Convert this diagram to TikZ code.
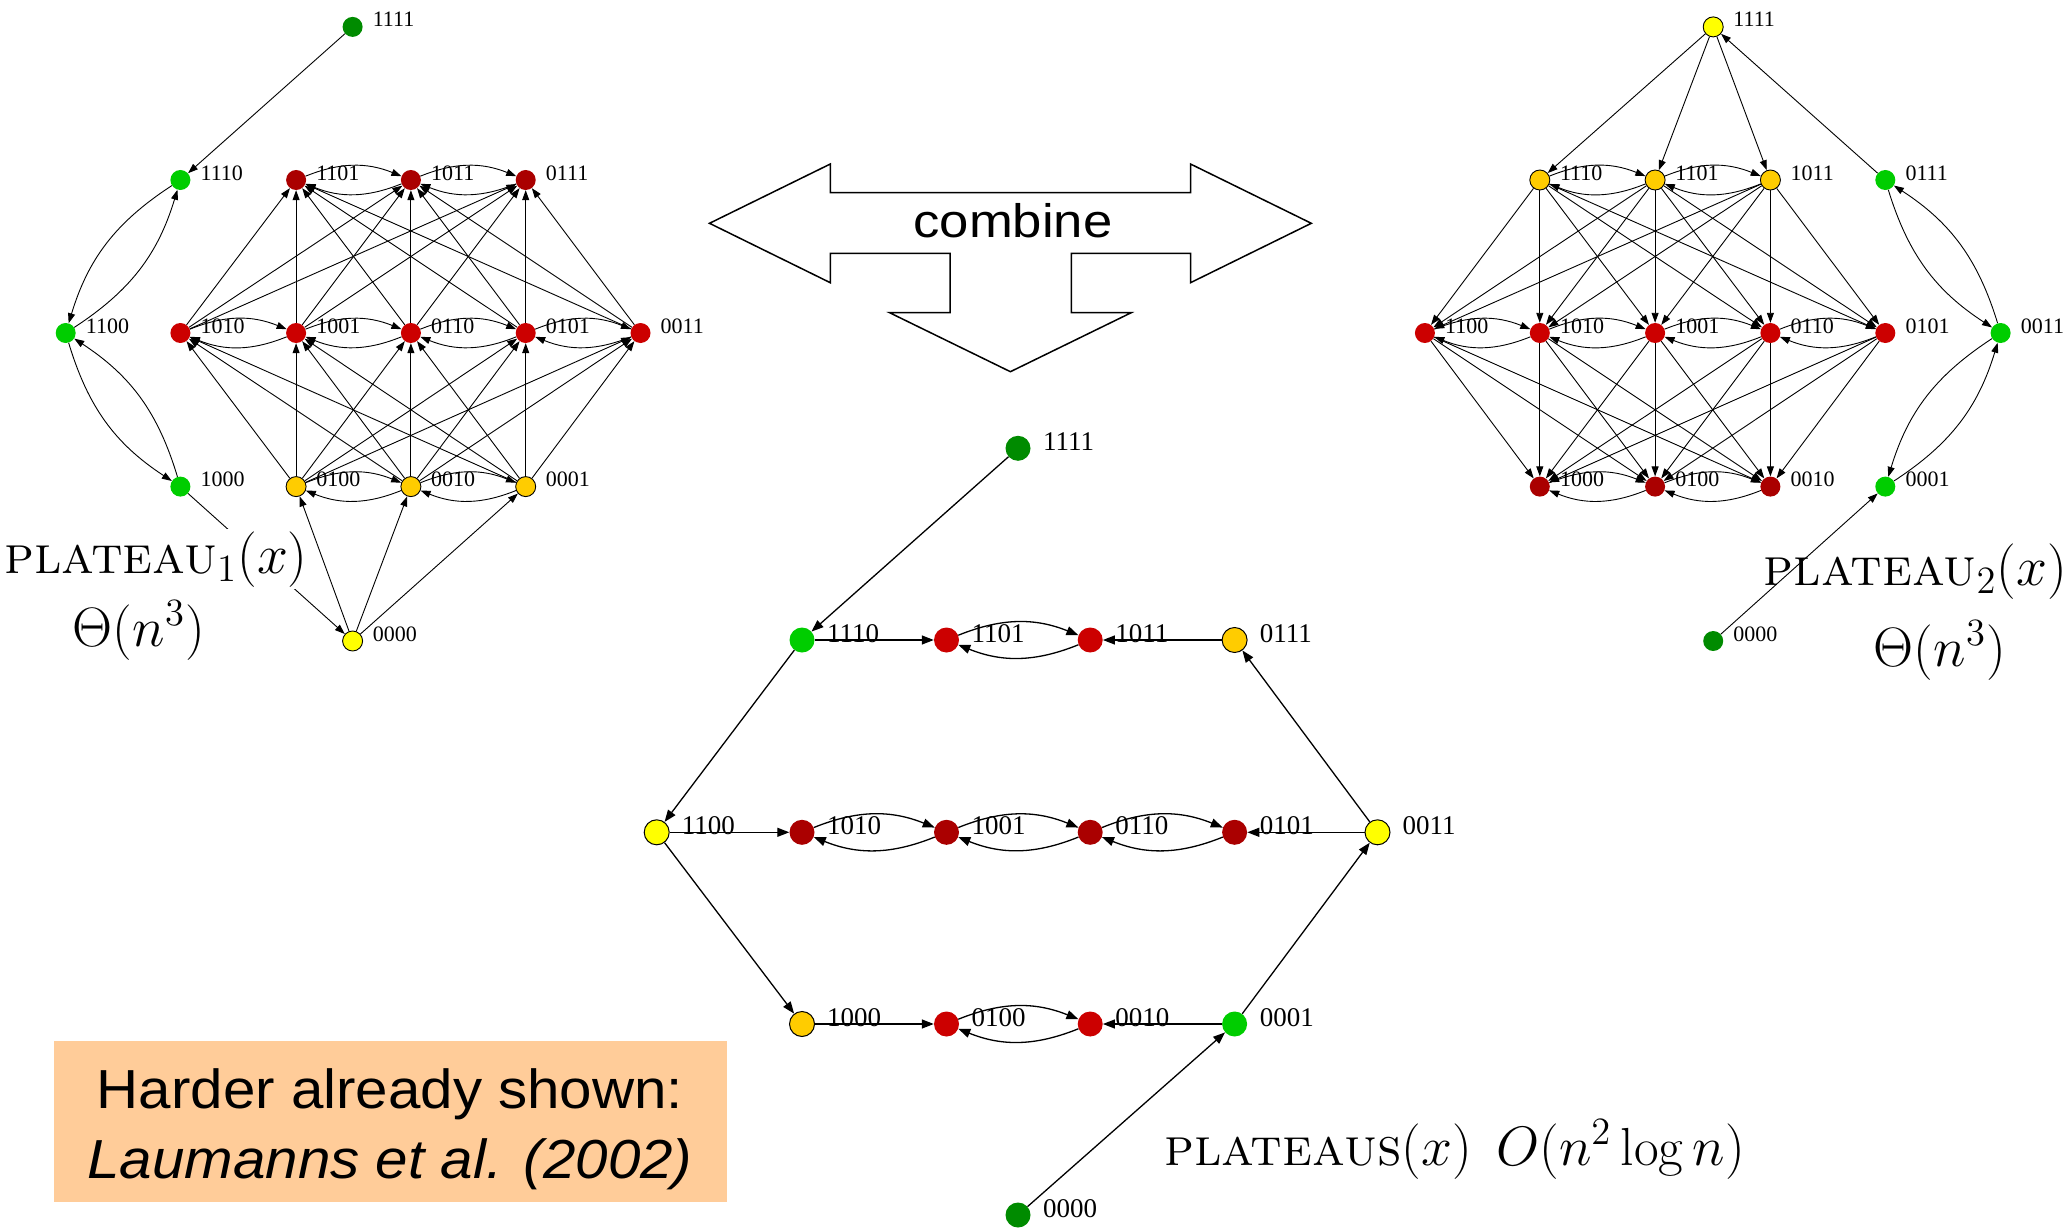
\documentclass[tikz,border=0pt]{standalone}
\usepackage{fontspec}
\newfontfamily\serf{Liberation Serif}
\newfontfamily\sanf{Liberation Sans}
\usetikzlibrary{arrows.meta}
\definecolor{cDG}{RGB}{0,139,0}
\definecolor{cG}{RGB}{0,205,0}
\definecolor{cR}{RGB}{204,0,0}
\definecolor{cDR}{RGB}{170,0,0}
\definecolor{cGo}{RGB}{255,204,0}
\definecolor{cY}{RGB}{255,255,0}
\definecolor{cPeach}{RGB}{255,204,153}
\pgfdeclarelayer{bg}
\pgfdeclarelayer{edges}
\pgfsetlayers{bg,edges,main}
\tikzset{
  v/.style={circle, inner sep=0pt, minimum size=20pt, draw=none},
  vo/.style={v, draw=black, line width=0.9pt},
  vm/.style={circle, inner sep=0pt, minimum size=25pt, draw=none},
  vmo/.style={vm, draw=black, line width=1pt},
  sl/.style={font=\serf\fontsize{22}{24}\selectfont, inner sep=0pt, anchor=base west},
  ml/.style={font=\serf\fontsize{27}{30}\selectfont, inner sep=0pt, anchor=base west},
  e/.style={line width=0.9pt, -{Triangle[length=10pt,width=7pt]}},
  em/.style={line width=1.3pt, -{Triangle[length=12pt,width=9pt]}},
  pl/.style={inner sep=2pt, anchor=base},
  bx/.style={font=\sanf\fontsize{55}{60}\selectfont, inner sep=0pt, anchor=base},
}
\newcommand\plt[1]{\scalebox{2.68}{\fontsize{20}{24}\selectfont #1}}
\newcommand\sv[5]{\node[#4] (#1) at (#2,#3) {}; \node[sl] (#1l) at (#2+20,#3) {#5};}
\newcommand\mv[5]{\node[#4] (#1) at (#2,#3) {}; \node[ml] (#1l) at (#2+25,#3+2) {#5};}
\begin{document}
\begin{tikzpicture}[x=1pt,y=-1pt]
\begin{pgfonlayer}{bg}
\fill[white] (0,0) rectangle (2070,1228);
\end{pgfonlayer}
\useasboundingbox (0,0) rectangle (2070,1228);

% ---------- left graph ----------
\sv{a1111}{352.6}{26.9}{v,fill=cDG}{1111}
\sv{a1110}{180.4}{180}{v,fill=cG}{1110}
\sv{a1100}{65.7}{333}{v,fill=cG}{1100}
\sv{a1000}{180.4}{486.6}{v,fill=cG}{1000}
\sv{a1101}{296.1}{180}{v,fill=cDR}{1101}
\sv{a1011}{410.9}{180}{v,fill=cDR}{1011}
\sv{a0111}{525.7}{180}{v,fill=cDR}{0111}
\sv{a1010}{180.4}{333}{v,fill=cR}{1010}
\sv{a1001}{296.1}{333}{v,fill=cR}{1001}
\sv{a0110}{410.9}{333}{v,fill=cR}{0110}
\sv{a0101}{525.7}{333}{v,fill=cR}{0101}
\sv{a0011}{640.5}{333}{v,fill=cR}{0011}
\sv{a0100}{296.1}{486.6}{vo,fill=cGo}{0100}
\sv{a0010}{410.9}{486.6}{vo,fill=cGo}{0010}
\sv{a0001}{525.7}{486.6}{vo,fill=cGo}{0001}
\sv{a0000}{352.6}{641}{vo,fill=cY}{0000}

% ---------- right graph ----------
\sv{b1111}{1713.2}{26.9}{vo,fill=cY}{1111}
\sv{b1110}{1539.8}{180}{vo,fill=cGo}{1110}
\sv{b1101}{1655.1}{180}{vo,fill=cGo}{1101}
\sv{b1011}{1770.4}{180}{vo,fill=cGo}{1011}
\sv{b0111}{1885.3}{180}{v,fill=cG}{0111}
\sv{b1100}{1424.9}{333}{v,fill=cR}{1100}
\sv{b1010}{1539.8}{333}{v,fill=cR}{1010}
\sv{b1001}{1655.1}{333}{v,fill=cR}{1001}
\sv{b0110}{1770.4}{333}{v,fill=cR}{0110}
\sv{b0101}{1885.3}{333}{v,fill=cR}{0101}
\sv{b0011}{2000.6}{333}{v,fill=cG}{0011}
\sv{b1000}{1539.8}{486.6}{v,fill=cDR}{1000}
\sv{b0100}{1655.1}{486.6}{v,fill=cDR}{0100}
\sv{b0010}{1770.4}{486.6}{v,fill=cDR}{0010}
\sv{b0001}{1885.3}{486.6}{v,fill=cG}{0001}
\sv{b0000}{1713.2}{641}{v,fill=cDG}{0000}

% ---------- middle graph ----------
\mv{c1111}{1018}{448.3}{vm,fill=cDG}{1111}
\mv{c1110}{802}{640}{vm,fill=cG}{1110}
\mv{c1101}{946.5}{640}{vm,fill=cR}{1101}
\mv{c1011}{1090.2}{640}{vm,fill=cR}{1011}
\mv{c0111}{1234.6}{640}{vmo,fill=cGo}{0111}
\mv{c1100}{656.7}{832.3}{vmo,fill=cY}{1100}
\mv{c1010}{802}{832.3}{vm,fill=cDR}{1010}
\mv{c1001}{946.5}{832.3}{vm,fill=cDR}{1001}
\mv{c0110}{1090.2}{832.3}{vm,fill=cDR}{0110}
\mv{c0101}{1234.6}{832.3}{vm,fill=cDR}{0101}
\mv{c0011}{1377.5}{832.3}{vmo,fill=cY}{0011}
\mv{c1000}{802}{1024}{vmo,fill=cGo}{1000}
\mv{c0100}{946.5}{1024}{vm,fill=cR}{0100}
\mv{c0010}{1090.2}{1024}{vm,fill=cR}{0010}
\mv{c0001}{1234.6}{1024}{vm,fill=cG}{0001}
\mv{c0000}{1018}{1215}{vm,fill=cDG}{0000}

% ---------- edges ----------
\begin{pgfonlayer}{edges}
% left
\draw[e] (a1111) -- (a1110);
\draw[e] (a1000) -- (a0000);
\foreach \t in {a0100,a0010,a0001} \draw[e] (a0000) -- (\t);
\foreach \s in {a0100,a0010,a0001} \foreach \t in {a1010,a1001,a0110,a0101,a0011} \draw[e] (\s) -- (\t);
\foreach \s in {a1010,a1001,a0110,a0101,a0011} \foreach \t in {a1101,a1011,a0111} \draw[e] (\s) -- (\t);
\foreach \p/\q in {a1101/a1011,a1011/a0111,a1010/a1001,a1001/a0110,a0110/a0101,a0101/a0011,a0100/a0010,a0010/a0001}
  {\draw[e] (\p) to[bend left=22] (\q); \draw[e] (\q) to[bend left=22] (\p);}
\foreach \p/\q in {a1110/a1100,a1100/a1000}
  {\draw[e] (\p) to[bend right=20] (\q); \draw[e] (\q) to[bend right=20] (\p);}
% right
\foreach \t in {b1110,b1101,b1011} \draw[e] (b1111) -- (\t);
\draw[e] (b0111) -- (b1111);
\draw[e] (b0000) -- (b0001);
\foreach \s in {b1110,b1101,b1011} \foreach \t in {b1100,b1010,b1001,b0110,b0101} \draw[e] (\s) -- (\t);
\foreach \s in {b1100,b1010,b1001,b0110,b0101} \foreach \t in {b1000,b0100,b0010} \draw[e] (\s) -- (\t);
\foreach \p/\q in {b1110/b1101,b1101/b1011,b1100/b1010,b1010/b1001,b1001/b0110,b0110/b0101,b1000/b0100,b0100/b0010}
  {\draw[e] (\p) to[bend left=22] (\q); \draw[e] (\q) to[bend left=22] (\p);}
\foreach \p/\q in {b0111/b0011,b0011/b0001}
  {\draw[e] (\p) to[bend right=20] (\q); \draw[e] (\q) to[bend right=20] (\p);}
% middle
\draw[em] (c1111) -- (c1110);
\draw[em] (c1110) -- (c1100);
\draw[em] (c1110) -- (c1101);
\draw[em] (c0111) -- (c1011);
\draw[em] (c0011) -- (c0111);
\draw[em] (c1100) -- (c1010);
\draw[em] (c0011) -- (c0101);
\draw[em] (c1100) -- (c1000);
\draw[em] (c1000) -- (c0100);
\draw[em] (c0001) -- (c0010);
\draw[em] (c0001) -- (c0011);
\draw[em] (c0000) -- (c0001);
\foreach \p/\q in {c1101/c1011,c1010/c1001,c1001/c0110,c0110/c0101,c0100/c0010}
  {\draw[em] (\p) to[bend left=22] (\q); \draw[em] (\q) to[bend left=22] (\p);}
\end{pgfonlayer}

% ---------- combine arrow ----------
\draw[line width=1.5pt, fill=white, line join=miter]
  (709.5,223.3) -- (830.3,164) -- (830.3,192.7) -- (1190.5,192.7) -- (1190.5,164)
  -- (1311.3,223.3) -- (1190.5,282.7) -- (1190.5,253.3) -- (1071.4,253.3)
  -- (1071.4,312.7) -- (1131.2,312.7) -- (1010.4,371.7) -- (889.6,312.7)
  -- (950.2,312.7) -- (950.2,253.3) -- (830.3,253.3) -- (830.3,282.7) -- cycle;
\node[font=\sanf\fontsize{47}{50}\selectfont, inner sep=0pt, anchor=base] (comb) at (1013,237) {\scalebox{1.12}[1]{combine}};

% ---------- labels ----------
\node[pl, fill=white] (p1) at (156,573) {\plt{\textsc{plateau}$_1(x)$}};
\node[pl] (t1) at (139,646) {\plt{$\Theta(n^3)$}};
\node[pl] (p2) at (1915.5,585) {\plt{\textsc{plateau}$_2(x)$}};
\node[pl] (t2) at (1940,666) {\plt{$\Theta(n^3)$}};
\node[pl, anchor=base west] (p3) at (1162,1165) {\plt{\textsc{plateaus}$(x)$}};
\node[pl, anchor=base west] (t3) at (1494,1165) {\plt{$O(n^2\log n)$}};

% ---------- box ----------
\node[fill=cPeach, inner sep=0pt, minimum width=673pt, minimum height=161pt] (box) at (390,1121.3) {};
\node[bx] (bx1) at (390,1108.3) {\scalebox{1.06}[1]{Harder already shown:}};
\node[bx] (bx2) at (390,1178.3) {\scalebox{1.06}[1]{\itshape Laumanns et al. (2002)}};
\end{tikzpicture}
\end{document}
